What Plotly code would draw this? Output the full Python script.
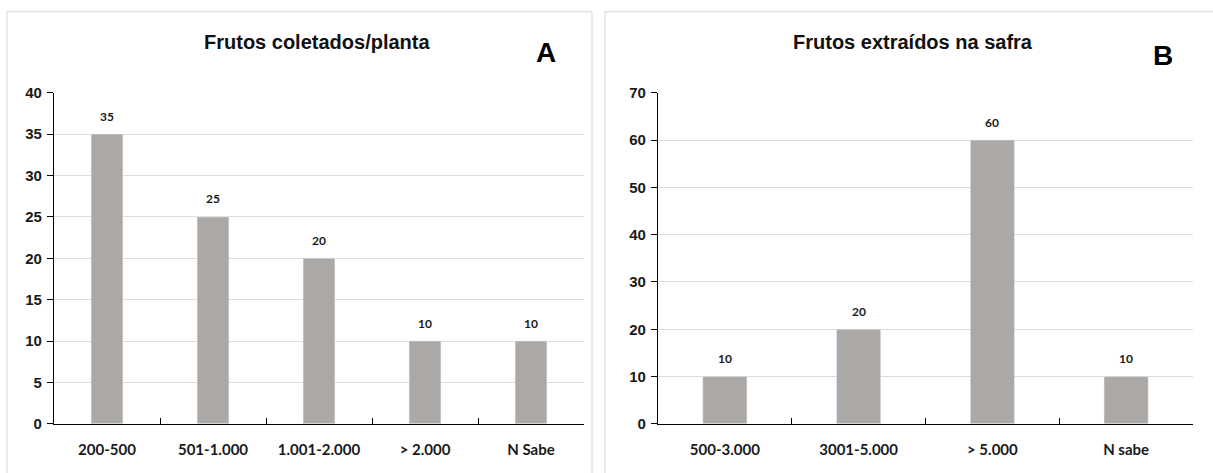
import plotly.graph_objects as go
from plotly.subplots import make_subplots

cats_a = ["200-500", "501-1.000", "1.001-2.000", "> 2.000", "N Sabe"]
vals_a = [35, 25, 20, 10, 10]
cats_b = ["500-3.000", "3001-5.000", "> 5.000", "N sabe"]
vals_b = [10, 20, 60, 10]
title_a = "Frutos coletados/planta"
title_b = "Frutos extraídos na safra"

W, H = 1213, 473
bar_color = "#aca8a5"
grid_color = "#dcdcdc"


def py(t):
    """paper y for a target pixel row (compensating the photographed page)."""
    return 1 - ((t - 8.3) / 0.9637) / H


fig = make_subplots(rows=1, cols=2)
fig.add_trace(go.Bar(x=cats_a, y=vals_a, marker_color=bar_color, width=0.3,
                     showlegend=False, hoverinfo="x+y"), row=1, col=1)
fig.add_trace(go.Bar(x=cats_b, y=vals_b, marker_color=bar_color, width=0.33,
                     showlegend=False, hoverinfo="x+y"), row=1, col=2)

ydom = [py(423), py(92)]
fig.update_layout(
    autosize=True, margin=dict(l=0, r=0, t=0, b=0),
    paper_bgcolor="white", plot_bgcolor="white",
    xaxis=dict(domain=[54 / W, 584 / W]),
    xaxis2=dict(domain=[658 / W, 1193 / W]),
    yaxis=dict(domain=ydom, range=[0, 40], dtick=5),
    yaxis2=dict(domain=ydom, range=[0, 70], dtick=10),
)
cat_font = dict(family="Lato, Carlito, sans-serif", size=15, color="#1a1a1a", weight="bold")
tick_font = dict(family="Liberation Sans, Arial, sans-serif", size=15, color="#1a1a1a",
                 weight="bold")
for ax in ["xaxis", "xaxis2"]:
    fig.layout[ax].update(showline=True, linecolor="black", linewidth=1.2,
                          ticks="inside", tickson="boundaries", ticklen=6,
                          tickcolor="black", tickfont=cat_font, showgrid=False,
                          ticklabelstandoff=12, fixedrange=True)
for ax in ["yaxis", "yaxis2"]:
    fig.layout[ax].update(showline=True, linecolor="black", linewidth=1.2,
                          ticks="outside", ticklen=6, tickcolor="black",
                          tickfont=tick_font, ticklabelstandoff=2,
                          showgrid=True, gridcolor=grid_color, gridwidth=1,
                          zeroline=False, fixedrange=True)

# value labels
for xs, ys, xr, yr in [(cats_a, vals_a, "x", "y"), (cats_b, vals_b, "x2", "y2")]:
    for c, v in zip(xs, ys):
        fig.add_annotation(x=c, y=v, xref=xr, yref=yr, text=str(v), showarrow=False,
                           yshift=18, font=dict(family="Lato, Carlito, sans-serif",
                                                size=12, color="#1a1a1a", weight="bold"))

# titles and panel letters
title_font = dict(family="Liberation Sans, Arial", size=20, color="#111", weight="bold")
fig.add_annotation(x=317 / W, y=py(41), xref="paper", yref="paper", text=title_a,
                   xanchor="center", yanchor="middle", showarrow=False, font=title_font)
fig.add_annotation(x=913 / W, y=py(41), xref="paper", yref="paper", text=title_b,
                   xanchor="center", yanchor="middle", showarrow=False, font=title_font)
fig.add_annotation(x=546 / W, y=py(52), xref="paper", yref="paper", text="<b>A</b>",
                   xanchor="center", yanchor="middle", showarrow=False,
                   font=dict(family="Liberation Sans, Arial", size=28, color="black"))
fig.add_annotation(x=1163 / W, y=py(55), xref="paper", yref="paper", text="<b>B</b>",
                   xanchor="center", yanchor="middle", showarrow=False,
                   font=dict(family="Liberation Sans, Arial", size=28, color="black"))

# panel borders
fig.add_shape(type="rect", xref="paper", yref="paper", x0=7 / W, x1=592 / W,
              y0=-0.05, y1=py(11), line=dict(color="#d6d6d6", width=1))
fig.add_shape(type="rect", xref="paper", yref="paper", x0=605 / W, x1=1.01,
              y0=-0.05, y1=py(11), line=dict(color="#d6d6d6", width=1))

post = (
    "document.documentElement.style.margin='0';"
    "document.documentElement.style.overflow='hidden';"
    "document.body.style.margin='0';"
    "document.body.style.overflow='hidden';"
    "var gd=document.getElementById('{plot_id}');"
    "gd.style.position='fixed';gd.style.left='0';gd.style.top='0';"
    "gd.style.width='100vw';gd.style.height='100vh';"
    "Plotly.Plots.resize(gd);"
)
fig.write_html("out.html", default_width="100vw", default_height="100vh",
               config={"responsive": True, "displayModeBar": False},
               post_script=post)
